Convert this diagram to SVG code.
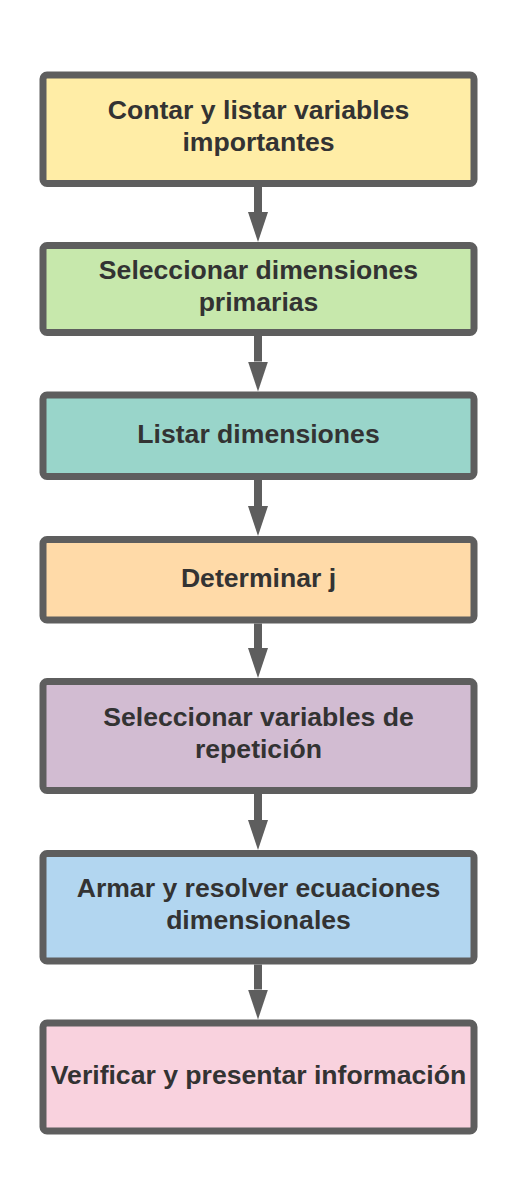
<svg xmlns="http://www.w3.org/2000/svg" width="517" height="1177" viewBox="0 0 517 1177">
  <style>
    .box { stroke: #5e5e5e; stroke-width: 7; }
    .lbl { font-family: "Liberation Sans", Arial, sans-serif; font-weight: bold; font-size: 26.6px; fill: #333333; text-anchor: middle; }
    .conn { stroke: #5e5e5e; stroke-width: 8; fill: none; }
  </style>
  <defs>
    <marker id="head" viewBox="0 0 30 20" refX="0" refY="10" markerWidth="30" markerHeight="20" markerUnits="userSpaceOnUse" orient="auto">
      <path d="M0,0 L30,10 L0,20 Z" fill="#5e5e5e"/>
    </marker>
  </defs>
  <rect width="517" height="1177" fill="#ffffff"/>
  <g id="connectors">
    <path class="conn" d="M258,187 L258,212" marker-end="url(#head)"/>
    <path class="conn" d="M258,336 L258,361.5" marker-end="url(#head)"/>
    <path class="conn" d="M258,480 L258,506" marker-end="url(#head)"/>
    <path class="conn" d="M258,623.5 L258,648" marker-end="url(#head)"/>
    <path class="conn" d="M258,794 L258,820" marker-end="url(#head)"/>
    <path class="conn" d="M258,964.5 L258,989.5" marker-end="url(#head)"/>
  </g>
  <g id="n1">
    <rect class="box" x="43" y="75" width="431" height="108.5" rx="4" fill="#ffeda6"/>
    <text class="lbl" x="258.5" y="119">Contar y listar variables</text>
    <text class="lbl" x="258.5" y="151">importantes</text>
  </g>
  <g id="n2">
    <rect class="box" x="43" y="245.5" width="431" height="87" rx="4" fill="#c7e8ac"/>
    <text class="lbl" x="258.5" y="278.5">Seleccionar dimensiones</text>
    <text class="lbl" x="258.5" y="310.5">primarias</text>
  </g>
  <g id="n3">
    <rect class="box" x="43" y="395" width="431" height="81.5" rx="4" fill="#99d5ca"/>
    <text class="lbl" x="258.5" y="443">Listar dimensiones</text>
  </g>
  <g id="n4">
    <rect class="box" x="43" y="539.5" width="431" height="80.5" rx="4" fill="#ffdaa8"/>
    <text class="lbl" x="258.5" y="587">Determinar j</text>
  </g>
  <g id="n5">
    <rect class="box" x="43" y="681.5" width="431" height="109" rx="4" fill="#d2bcd2"/>
    <text class="lbl" x="258.5" y="726">Seleccionar variables de</text>
    <text class="lbl" x="258.5" y="758">repetición</text>
  </g>
  <g id="n6">
    <rect class="box" x="43" y="853.5" width="431" height="107.5" rx="4" fill="#b2d6f0"/>
    <text class="lbl" x="258.5" y="897">Armar y resolver ecuaciones</text>
    <text class="lbl" x="258.5" y="929">dimensionales</text>
  </g>
  <g id="n7">
    <rect class="box" x="43" y="1023" width="431" height="108" rx="4" fill="#f9d2de"/>
    <text class="lbl" x="258.5" y="1084">Verificar y presentar información</text>
  </g>
</svg>
